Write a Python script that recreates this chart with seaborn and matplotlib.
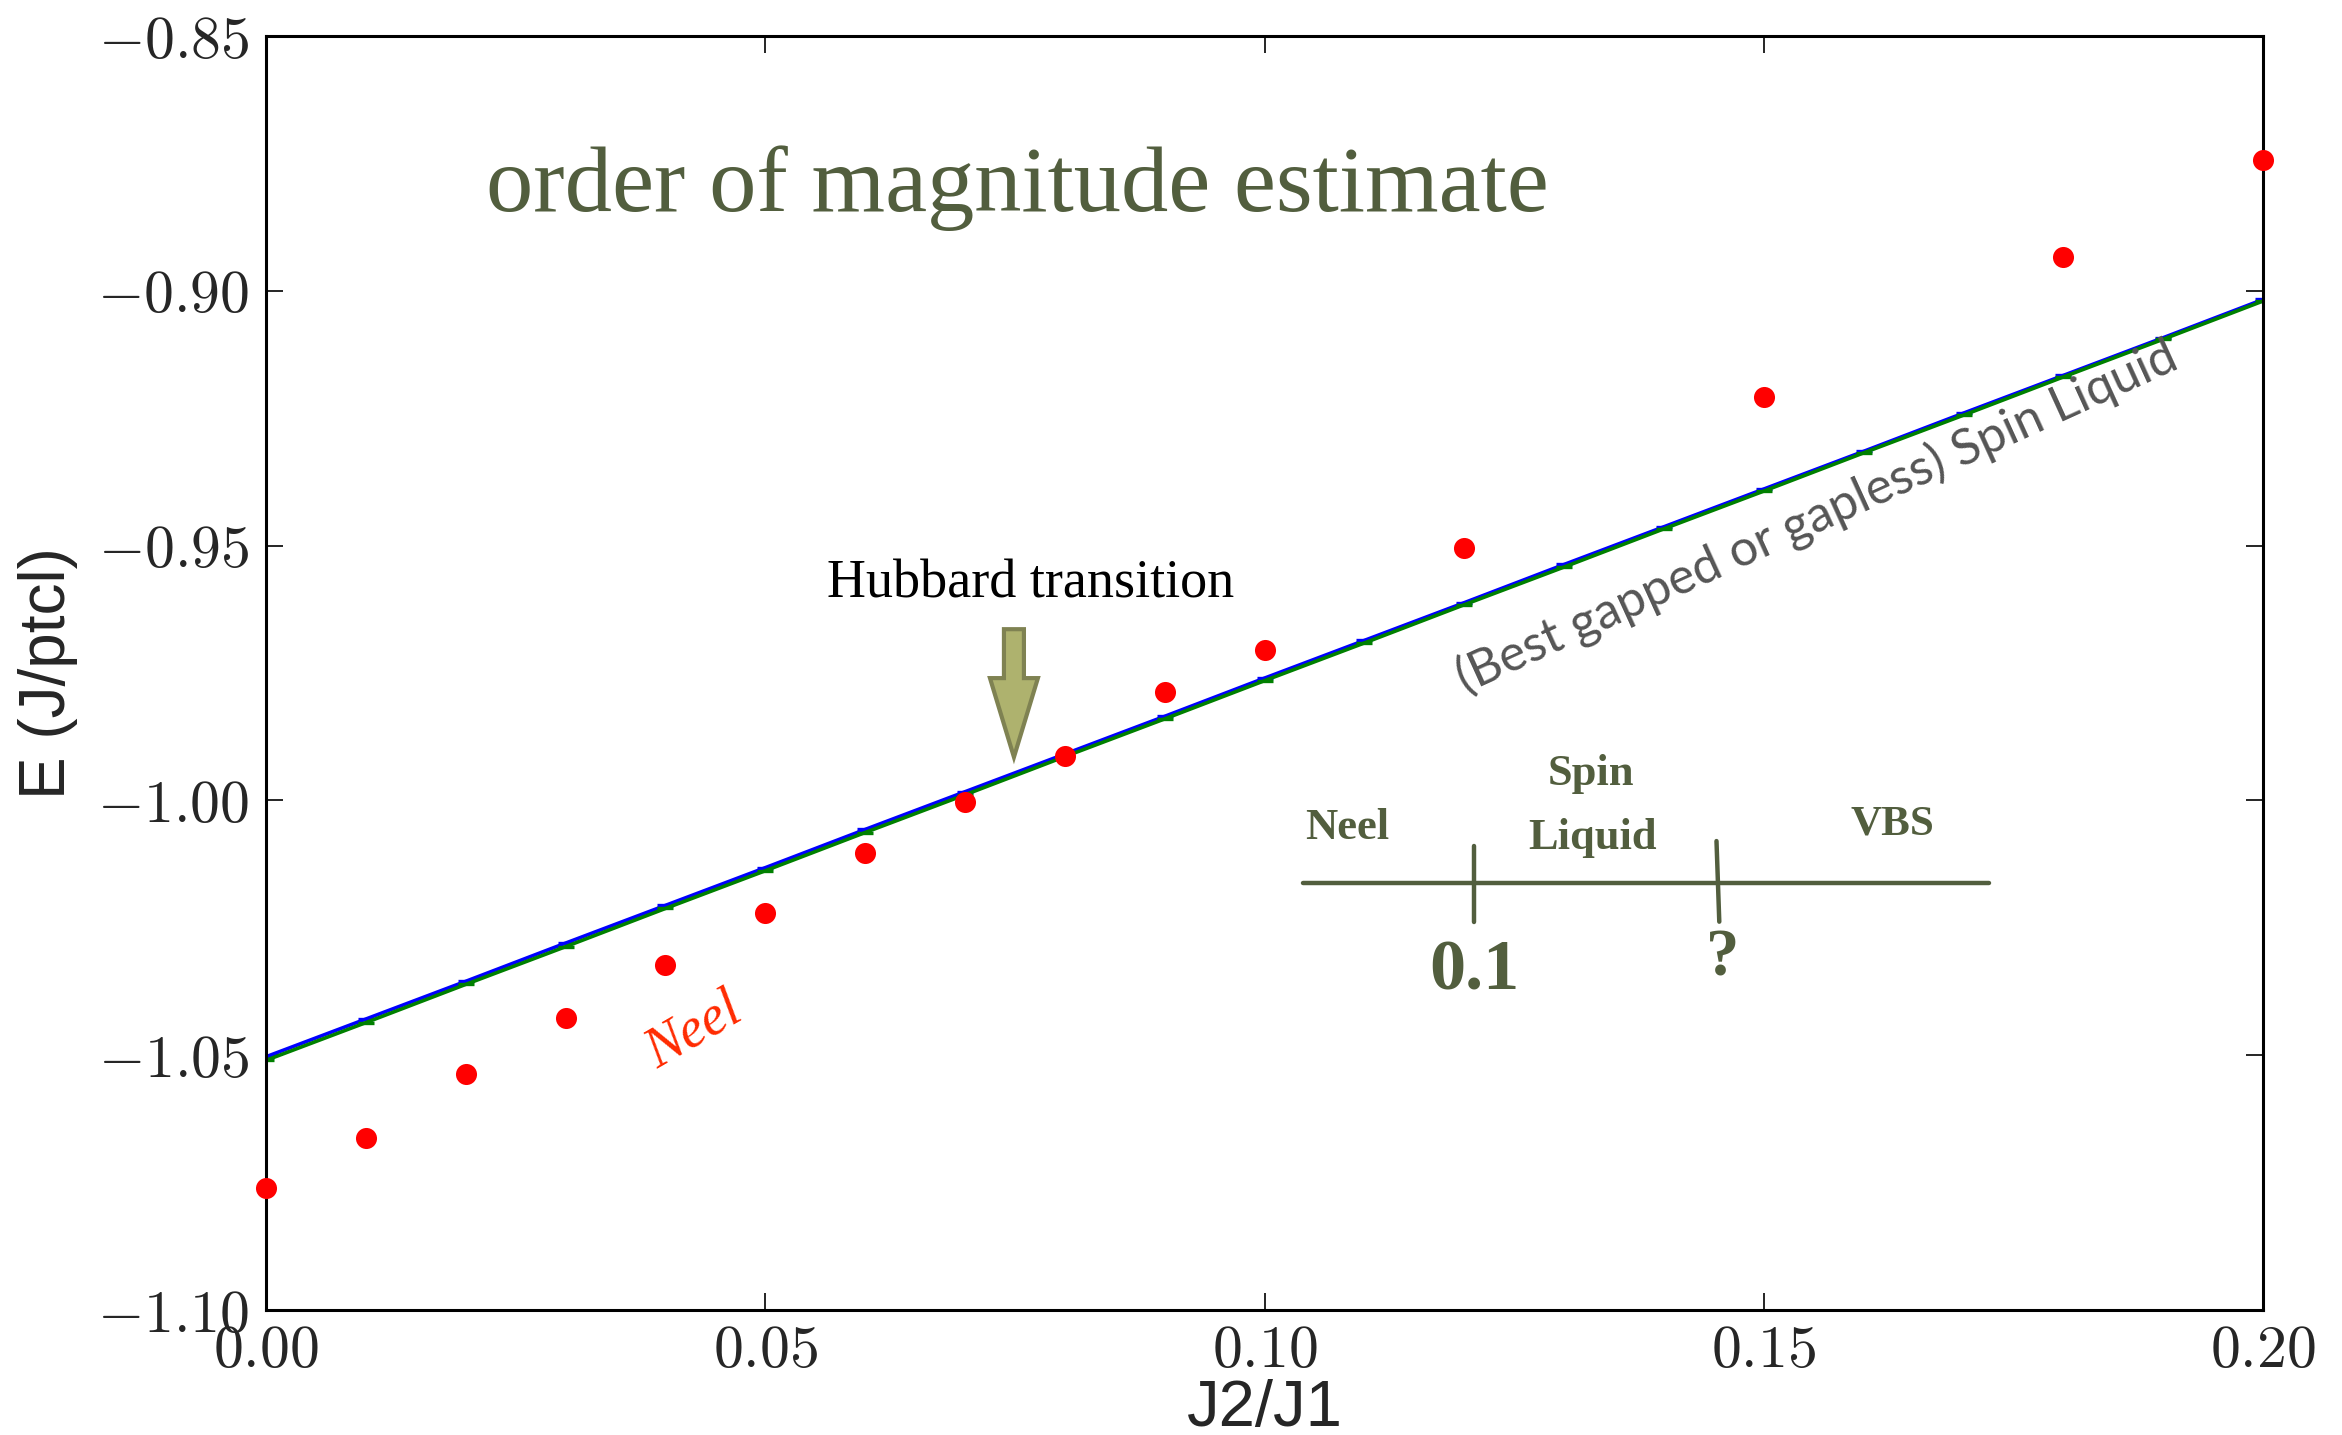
# Energy per particle vs J2/J1: Neel points against the spin liquid lines
import numpy as np
import pandas as pd
import seaborn as sns
from matplotlib import pyplot as plt
from matplotlib.ticker import FuncFormatter

sns.set_theme(style="ticks")
plt.rcParams['mathtext.fontset'] = 'cm'
plt.rcParams['font.family'] = ['Liberation Sans', 'DejaVu Sans']

# Data
j_ratio = [0.00, 0.01, 0.02, 0.03, 0.04, 0.05, 0.06, 0.07, 0.08, 0.09, 0.10,
           0.11, 0.12, 0.13, 0.14, 0.15, 0.16, 0.17, 0.18, 0.19, 0.20]
spin_liquid_blue = [-1.0503, -1.0429, -1.0355, -1.0280, -1.0206, -1.0132,
                    -1.0057, -0.9983, -0.9909, -0.9835, -0.9760, -0.9686,
                    -0.9612, -0.9537, -0.9463, -0.9389, -0.9315, -0.9240,
                    -0.9166, -0.9092, -0.9017]
spin_liquid_green = [-1.0510, -1.0436, -1.0361, -1.0287, -1.0212, -1.0138,
                     -1.0063, -0.9989, -0.9914, -0.9840, -0.9765, -0.9691,
                     -0.9616, -0.9542, -0.9467, -0.9393, -0.9318, -0.9244,
                     -0.9169, -0.9095, -0.9020]

neel_x = [0.00, 0.01, 0.02, 0.03, 0.04, 0.05, 0.06, 0.07, 0.08, 0.09, 0.10,
          0.12, 0.15, 0.18, 0.20]
neel_e = [-1.0760, -1.0663, -1.0537, -1.0426, -1.0323, -1.0220, -1.0103,
          -1.0004, -0.9913, -0.9787, -0.9705, -0.9505, -0.9209, -0.8934,
          -0.8743]

x_ticks = [0.00, 0.05, 0.10, 0.15, 0.20]
y_ticks = [-1.10, -1.05, -1.00, -0.95, -0.90, -0.85]

OLIVE = '#525e3e'

fig = plt.figure(figsize=(23.42, 14.35), dpi=100)
ax = fig.add_axes([0.1136, 0.0871, 0.8527, 0.8878])

lines = pd.DataFrame({'j': j_ratio, 'blue': spin_liquid_blue,
                      'green': spin_liquid_green})
for col, colour in [('blue', 'blue'), ('green', 'green')]:
    sns.lineplot(data=lines, x='j', y=col, color=colour, lw=2.6,
                 marker='_', markersize=12, markeredgewidth=2.4,
                 markeredgecolor=colour, ax=ax)
sns.scatterplot(x=neel_x, y=neel_e, color='red', s=230, edgecolor='red',
                linewidth=0, clip_on=False, zorder=5, ax=ax)

# Axes
ax.set_xlim(0, 0.2)
ax.set_ylim(-1.10, -0.85)
ax.set_xticks(x_ticks)
ax.set_yticks(y_ticks)
ax.xaxis.set_major_formatter(FuncFormatter(lambda v, p: r'$%.2f$' % v))
ax.yaxis.set_major_formatter(FuncFormatter(lambda v, p: r'$%.2f$' % v))
ax.tick_params(which='both', direction='in', length=12, width=1.2,
               top=True, right=True, labelsize=43, color='black')
ax.tick_params(axis='x', pad=10)
ax.tick_params(axis='y', pad=12)
for spine in ax.spines.values():
    spine.set_linewidth(2.2)
    spine.set_color('black')
ax.set_xlabel('J2/J1', fontsize=47, labelpad=0)
ax.set_ylabel('E (J/ptcl)', fontsize=46, labelpad=14)

# Annotations
ax.text(0.3762, 0.8804, 'order of magnitude estimate', transform=ax.transAxes,
        ha='center', va='center', fontsize=68, color=OLIVE,
        family='Liberation Serif')
ax.text(0.383, 0.5698, 'Hubbard transition', transform=ax.transAxes,
        ha='center', va='center', fontsize=39, color='black',
        family='Liberation Serif')
ax.arrow(0.0749, -0.9664, 0, -0.0096, width=0.0020, head_width=0.0048,
         head_length=0.0155, length_includes_head=False,
         facecolor='#aeb26e', edgecolor='#7f8252', lw=3, zorder=6)
ax.text(0.0429, -1.0452, 'Neel', rotation=30, ha='center', va='center',
        fontsize=40, color='#ff2a00', style='italic',
        family='Liberation Serif')
ax.text(0.1553, -0.9443, '(Best gapped or gapless) Spin Liquid', rotation=24.5,
        ha='center', va='center', fontsize=36, color='#555555',
        family='Lato', rotation_mode='anchor')

# Phase diagram sketch
ax.plot([0.519, 0.863], [0.3353, 0.3353], color=OLIVE, lw=3.2,
        transform=ax.transAxes)
ax.plot([0.605, 0.605], [0.3646, 0.3048], color=OLIVE, lw=3.2,
        transform=ax.transAxes)
ax.plot([0.7263, 0.7277], [0.3681, 0.3048], color=OLIVE, lw=3.2,
        transform=ax.transAxes)
diagram_labels = [
    (0.5415, 0.3787, 'Neel', 32),
    (0.6634, 0.4209, 'Spin', 32),
    (0.6642, 0.3705, 'Liquid', 32),
    (0.8145, 0.3810, 'VBS', 31),
    (0.6050, 0.2650, '0.1', 52),
    (0.7292, 0.2755, '?', 48),
]
for lx, ly, txt, size in diagram_labels:
    ax.text(lx, ly, txt, transform=ax.transAxes, ha='center', va='center',
            fontsize=size, color=OLIVE, fontweight='bold',
            family='Liberation Serif')

fig.savefig('out.png', dpi=100)
